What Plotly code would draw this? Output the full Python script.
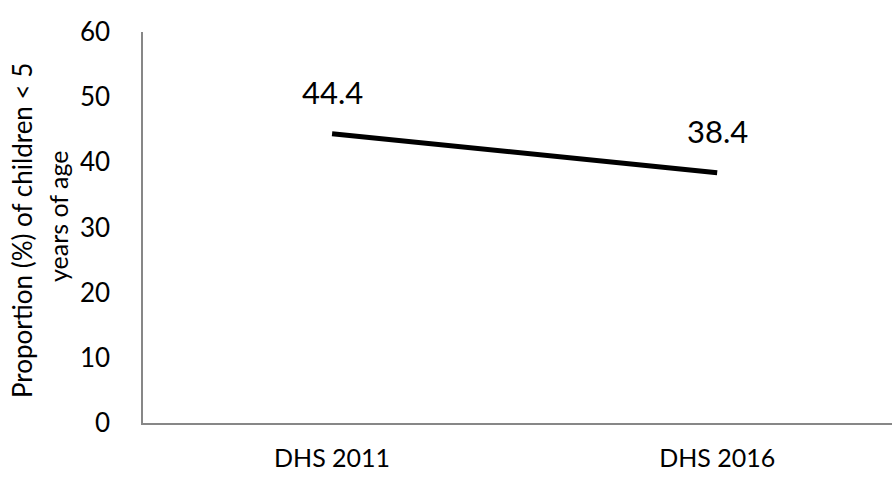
import plotly.graph_objects as go

# Survey rounds and the share of under-five children (%)
surveys = ["DHS 2011", "DHS 2016"]
proportion = [44.4, 38.4]
y_ticks = [0, 10, 20, 30, 40, 50, 60]

FONT = "Lato, Calibri, Carlito, sans-serif"
AXIS_GREY = "#878787"

x_pos = list(range(len(surveys)))

fig = go.Figure()
fig.add_trace(go.Scatter(
    x=x_pos,
    y=proportion,
    mode="lines",
    line=dict(color="black", width=5),
    hoverinfo="skip",
    showlegend=False,
))

# Value labels above each point
for xv, yv in zip(x_pos, proportion):
    fig.add_annotation(
        x=xv, y=yv, xref="x", yref="y",
        text=f"{yv:.1f}", showarrow=False,
        yshift=42, font=dict(family=FONT, size=31, color="black"),
    )

# Two-line vertical axis title
fig.add_annotation(
    xref="paper", yref="paper", x=0, y=0.491, xshift=-121,
    text="Proportion (%) of children < 5", textangle=-90, showarrow=False,
    xanchor="center", yanchor="middle",
    font=dict(family=FONT, size=26, color="black"),
)
fig.add_annotation(
    xref="paper", yref="paper", x=0, y=0.527, xshift=-85,
    text="years of age", textangle=-90, showarrow=False,
    xanchor="center", yanchor="middle",
    font=dict(family=FONT, size=25, color="black"),
)

fig.update_layout(
    width=892, height=477,
    margin=dict(l=143, r=0, t=32, b=54, autoexpand=False),
    paper_bgcolor="white", plot_bgcolor="white",
    font=dict(family=FONT, color="black"),
    xaxis=dict(
        tickmode="array", tickvals=x_pos, ticktext=surveys,
        range=[-0.491, 1.454], automargin=False,
        showline=True, linecolor=AXIS_GREY, linewidth=1.5,
        showgrid=False, zeroline=False, ticks="",
        tickfont=dict(family=FONT, size=25, color="black"),
        ticklabelstandoff=12,
    ),
    yaxis=dict(
        tickmode="array", tickvals=y_ticks,
        range=[0, 60], automargin=False,
        showline=True, linecolor=AXIS_GREY, linewidth=1.5,
        showgrid=False, zeroline=False, ticks="",
        tickfont=dict(family=FONT, size=26, color="black"),
        ticklabelstandoff=26,
    ),
)

fig.write_html("out.html")
